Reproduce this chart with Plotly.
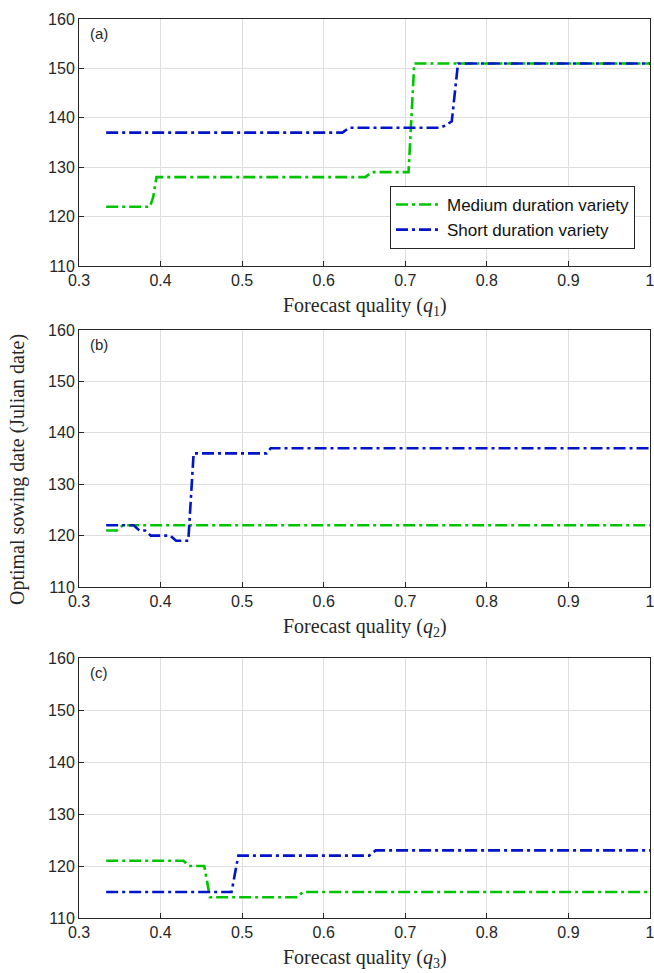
import plotly.graph_objects as go

# ---- data ----
xa_med = [0.3333, 0.387, 0.391, 0.395, 0.651, 0.659, 0.704, 0.711, 1.0]
ya_med = [122, 122, 124, 128, 128, 129, 129, 151, 151]
xa_short = [0.3333, 0.623, 0.631, 0.7426, 0.750, 0.757, 0.7646, 1.0]
ya_short = [137, 137, 138, 138, 138.5, 139.3, 151, 151]

xb_med = [0.3333, 0.3465, 0.3535, 1.0]
yb_med = [121, 121, 122, 122]
xb_short = [0.3333, 0.367, 0.374, 0.381, 0.388, 0.412, 0.419, 0.434, 0.4405, 0.530, 0.535, 1.0]
yb_short = [122, 122, 121, 121, 120, 120, 119, 119, 136, 136, 137, 137]

xc_med = [0.3333, 0.428, 0.435, 0.4535, 0.4605, 0.5674, 0.5744, 1.0]
yc_med = [121, 121, 120, 120, 114, 114, 115, 115]
xc_short = [0.3333, 0.487, 0.4953, 0.6558, 0.6637, 1.0]
yc_short = [115, 115, 122, 122, 123, 123]

x_ticks = [0.3, 0.4, 0.5, 0.6, 0.7, 0.8, 0.9, 1.0]
x_ticklabels = ["0.3", "0.4", "0.5", "0.6", "0.7", "0.8", "0.9", "1"]
y_ticks = [110, 120, 130, 140, 150, 160]
panel_labels = ["(a)", "(b)", "(c)"]
xlabel_subs = ["1", "2", "3"]
series_names = ["Medium duration variety", "Short duration variety"]

GREEN = "#00c400"
BLUE = "#0014c8"
DASH = "12px,4px,3px,4px"
SANS = "Liberation Sans, Arial, sans-serif"
SERIF = "Liberation Serif, Times New Roman, serif"

W, H = 654, 973
left_px, right_px = 79, 650
panels_px = [(19, 266), (330, 587), (658, 918)]

fig = go.Figure()
panel_data = [
    (xa_med, ya_med, xa_short, ya_short),
    (xb_med, yb_med, xb_short, yb_short),
    (xc_med, yc_med, xc_short, yc_short),
]

layout = dict(
    width=W, height=H,
    margin=dict(l=0, r=0, t=0, b=0),
    paper_bgcolor="white", plot_bgcolor="white",
    showlegend=True,
    legend=dict(
        x=390 / W, y=1 - 186 / H, xanchor="left", yanchor="top",
        bordercolor="#262626", borderwidth=1, bgcolor="white",
        font=dict(family=SANS, size=17, color="#111"),
        tracegroupgap=0, itemwidth=46,
    ),
)

annotations = []
for i, (xm, ym, xs, ys) in enumerate(panel_data):
    n = "" if i == 0 else str(i + 1)
    xa = "x" + n
    ya = "y" + n
    fig.add_trace(go.Scatter(x=xm, y=ym, mode="lines", name=series_names[0],
                             line=dict(color=GREEN, width=2.6, dash=DASH),
                             xaxis=xa, yaxis=ya, showlegend=(i == 0)))
    fig.add_trace(go.Scatter(x=xs, y=ys, mode="lines", name=series_names[1],
                             line=dict(color=BLUE, width=2.6, dash=DASH),
                             xaxis=xa, yaxis=ya, showlegend=(i == 0)))
    top, bot = panels_px[i]
    axcommon = dict(showline=True, mirror=True, linecolor="#262626", linewidth=1,
                    ticks="inside", ticklen=5, tickcolor="#262626",
                    showgrid=True, gridcolor="#dedede", gridwidth=1, zeroline=False,
                    automargin=False, ticklabeloverflow="allow",
                    tickfont=dict(family=SANS, size=16, color="#262626"))
    layout["xaxis" + n] = dict(axcommon, domain=[left_px / W, right_px / W],
                               range=[0.29999, 1.00001], tickvals=x_ticks, ticktext=x_ticklabels,
                               anchor=ya)
    layout["yaxis" + n] = dict(axcommon, domain=[1 - bot / H, 1 - top / H],
                               range=[109.999, 160.001], tickvals=y_ticks, anchor=xa)
    annotations.append(dict(
        text=panel_labels[i], xref="paper", yref="paper",
        x=88 / W, y=1 - (top + 4) / H, xanchor="left", yanchor="top", showarrow=False,
        font=dict(family=SANS, size=15, color="#262626")))
    annotations.append(dict(
        text="Forecast quality (<i>q</i><sub>" + xlabel_subs[i] + "</sub>)",
        xref="paper", yref="paper", x=(left_px + right_px) / 2 / W, y=1 - (bot + 26) / H,
        xanchor="center", yanchor="top", showarrow=False,
        font=dict(family=SERIF, size=20, color="#262626")))

annotations.append(dict(
    text="Optimal sowing date (Julian date)", xref="paper", yref="paper",
    x=18 / W, y=1 - 470 / H, xanchor="center", yanchor="middle", textangle=-90,
    showarrow=False,
    font=dict(family=SERIF, size=20, color="#262626")))

layout["annotations"] = annotations
fig.update_layout(**layout)
fig.write_html("out.html")
